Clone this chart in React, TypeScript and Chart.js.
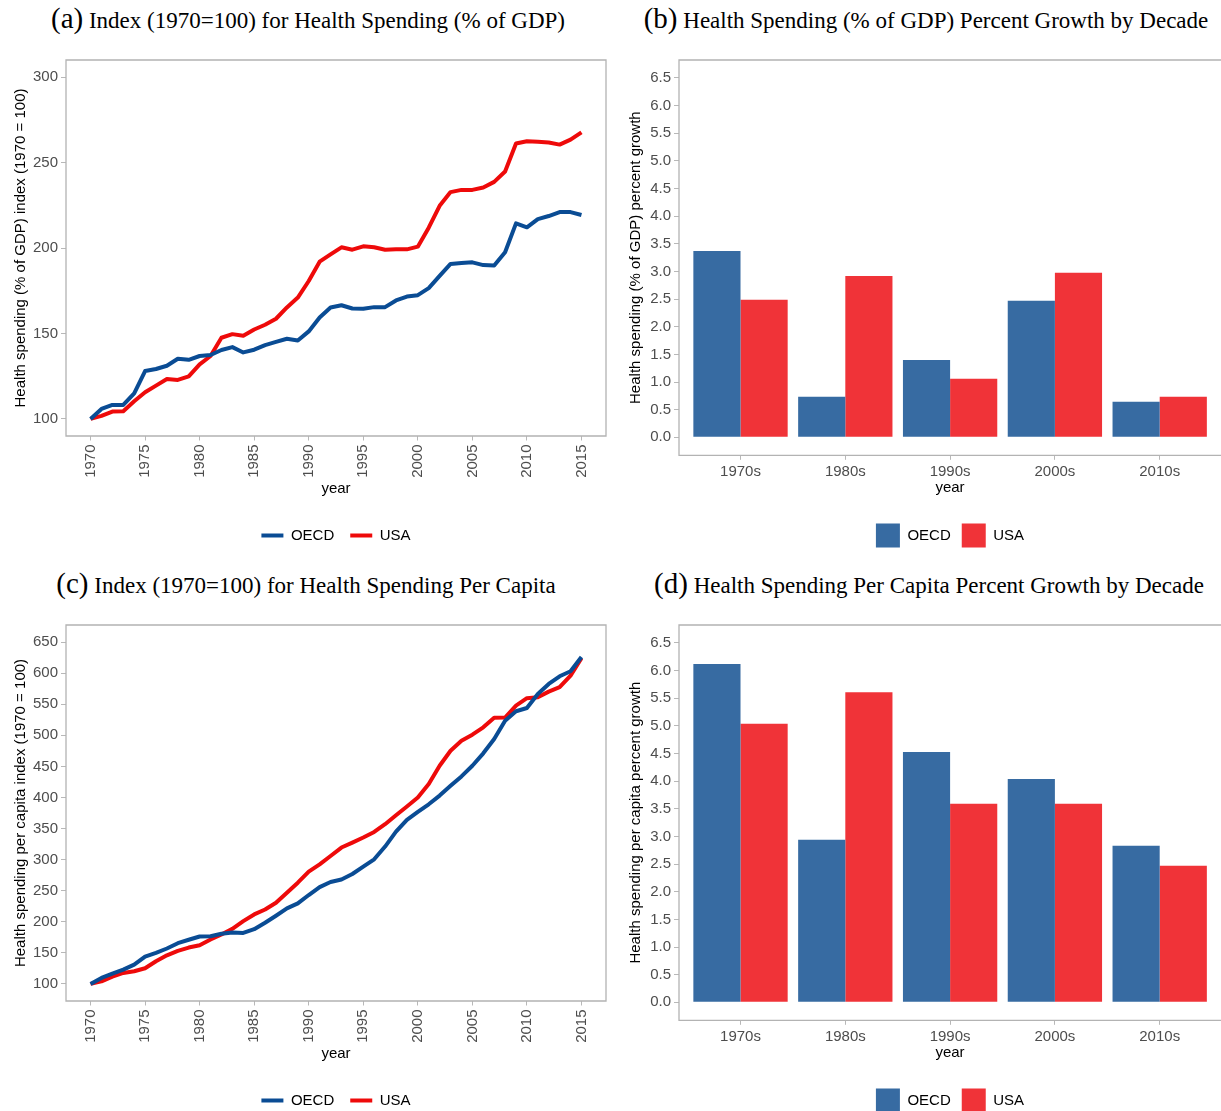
import React, { useEffect, useRef } from 'react';
import { Chart, registerables } from 'chart.js';

Chart.register(...registerables);

// ---------- data ----------
const years = [
  1970, 1971, 1972, 1973, 1974, 1975, 1976, 1977, 1978, 1979,
  1980, 1981, 1982, 1983, 1984, 1985, 1986, 1987, 1988, 1989,
  1990, 1991, 1992, 1993, 1994, 1995, 1996, 1997, 1998, 1999,
  2000, 2001, 2002, 2003, 2004, 2005, 2006, 2007, 2008, 2009,
  2010, 2011, 2012, 2013, 2014, 2015,
];

const oecdGdpIndex = [
  100, 105.8, 108.2, 108.2, 115, 128, 129.2, 131.1, 135.2, 134.6,
  136.8, 137.4, 140.3, 142, 138.9, 140.5, 143.2, 145.1, 146.9, 145.9,
  151.2, 159.3, 165.2, 166.5, 164.6, 164.4, 165.4, 165.4, 169.3, 171.6,
  172.4, 176.5, 183.7, 190.7, 191.2, 191.6, 190, 189.7, 197.5, 214.4,
  212.1, 216.9, 218.7, 221, 221, 219.3,
];
const usaGdpIndex = [
  100, 101.8, 104.3, 104.5, 110.3, 115.6, 119.5, 123.3, 122.8, 124.9,
  131.9, 136.8, 147.5, 149.6, 148.6, 152.3, 155.1, 158.6, 165.2, 171,
  180.7, 192, 196.3, 200.4, 199, 201, 200.4, 199, 199.2, 199.2,
  200.8, 211.9, 224.7, 232.7, 234, 234, 235.4, 238.7, 244.8, 261.1,
  262.5, 262.1, 261.7, 260.5, 263.4, 267.7,
];
const oecdPerCapitaIndex = [
  100, 109.7, 116.6, 123, 131, 144, 150, 157, 165.5, 171,
  176.3, 176.8, 180.6, 182.7, 182, 188, 198.4, 209.7, 221.5, 229.5,
  243, 255.8, 264, 268, 276.8, 288.7, 300.5, 321, 345, 364,
  376.8, 389, 403, 418.7, 433.9, 451, 471, 494, 523.6, 538.7,
  544, 566.6, 582.7, 595, 603, 626,
];
const usaPerCapitaIndex = [
  100, 104, 111.8, 117.7, 120.3, 125.2, 136.5, 146, 153.2, 158.5,
  162.3, 171.5, 179.5, 188.7, 201, 211.8, 219.8, 230.6, 246.8, 262.9,
  280.6, 292.4, 305.8, 319.4, 327.4, 335.5, 344.5, 357, 371.5, 385.5,
  400, 421.5, 451, 475.2, 491.3, 501, 512.9, 528.4, 528.6, 547.8,
  559.7, 561.3, 570.3, 577.4, 596, 624,
];

const decades = ['1970s', '1980s', '1990s', '2000s', '2010s'];
const oecdGdpGrowth = [3.37, 0.735, 1.4, 2.47, 0.645];
const usaGdpGrowth = [2.49, 2.92, 1.06, 2.976, 0.735];
const oecdPerCapitaGrowth = [6.12, 2.94, 4.53, 4.04, 2.83];
const usaPerCapitaGrowth = [5.04, 5.61, 3.59, 3.59, 2.47];

const yearTicks = [1970, 1975, 1980, 1985, 1990, 1995, 2000, 2005, 2010, 2015];
const gdpIndexTicks = [100, 150, 200, 250, 300];
const perCapitaIndexTicks = [100, 150, 200, 250, 300, 350, 400, 450, 500, 550, 600, 650];
const growthTicks = [0, 0.5, 1, 1.5, 2, 2.5, 3, 3.5, 4, 4.5, 5, 5.5, 6, 6.5];

// ---------- styles ----------
const SANS = '"Liberation Sans", Arial, Helvetica, sans-serif';
const SERIF = '"Liberation Serif", "Times New Roman", serif';
const LINE_BLUE = '#0A4C94';
const LINE_RED = '#EE0A0A';
const BAR_BLUE = '#376BA2';
const BAR_RED = '#F03338';
const TICK_TEXT = '#4D4D4D';
const TICK_MARK = '#B8B8B8';
const BOX = '#B3B3B3';

const tickFont = { family: SANS, size: 15 };
const titleFont = { family: SANS, size: 15 };

function boxPlugin(full: boolean) {
  return {
    id: 'panelBox',
    afterDraw(chart: any) {
      const { ctx, chartArea: a } = chart;
      ctx.save();
      ctx.strokeStyle = BOX;
      ctx.lineWidth = 1.3;
      ctx.beginPath();
      if (full) {
        ctx.rect(a.left, a.top, a.right - a.left, a.bottom - a.top);
      } else {
        const r = chart.width + 5;
        ctx.moveTo(r, a.top);
        ctx.lineTo(a.left, a.top);
        ctx.lineTo(a.left, a.bottom);
        ctx.lineTo(r, a.bottom);
      }
      ctx.stroke();
      ctx.restore();
    },
  };
}

function lineConfig(oecd: number[], usa: number[], yMin: number, yMax: number, yTicks: number[], yTitle: string) {
  return {
    type: 'line',
    data: {
      datasets: [
        {
          label: 'OECD',
          data: years.map((yr, i) => ({ x: yr, y: oecd[i] })),
          borderColor: LINE_BLUE,
          backgroundColor: LINE_BLUE,
          borderWidth: 4,
          pointRadius: 0,
          tension: 0,
          borderJoinStyle: 'round',
        },
        {
          label: 'USA',
          data: years.map((yr, i) => ({ x: yr, y: usa[i] })),
          borderColor: LINE_RED,
          backgroundColor: LINE_RED,
          borderWidth: 4,
          pointRadius: 0,
          tension: 0,
          borderJoinStyle: 'round',
        },
      ],
    },
    options: {
      responsive: false,
      animation: false,
      events: [],
      layout: { padding: { left: 0, top: 20, right: 4, bottom: 7 } },
      plugins: {
        legend: {
          position: 'bottom',
          fullSize: false,
          labels: {
            usePointStyle: true,
            pointStyle: 'line',
            pointStyleWidth: 22,
            padding: 16,
            color: '#000',
            font: { family: SANS, size: 15 },
          },
        },
        tooltip: { enabled: false },
      },
      scales: {
        x: {
          type: 'linear',
          min: 1967.75,
          max: 2017.25,
          afterBuildTicks: (ax: any) => {
            ax.ticks = yearTicks.map((v) => ({ value: v }));
          },
          afterFit: (s: any) => {
            s.height = 76;
          },
          ticks: {
            autoSkip: false,
            minRotation: 90,
            maxRotation: 90,
            padding: 4,
            color: TICK_TEXT,
            font: tickFont,
            callback: (v: any) => String(v),
          },
          grid: { drawOnChartArea: false, tickLength: 4.5, color: TICK_MARK, lineWidth: 1 },
          border: { display: false },
          title: { display: true, text: 'year', color: '#000', font: titleFont, padding: { top: 0, bottom: 14.4 } },
        },
        y: {
          type: 'linear',
          min: yMin,
          max: yMax,
          afterBuildTicks: (ax: any) => {
            ax.ticks = yTicks.map((v) => ({ value: v }));
          },
          afterFit: (s: any) => {
            s.width = 66;
          },
          ticks: { padding: 3, color: TICK_TEXT, font: tickFont, callback: (v: any) => String(v) },
          grid: { drawOnChartArea: false, tickLength: 5, color: TICK_MARK, lineWidth: 1 },
          border: { display: false },
          title: { display: true, text: yTitle, color: '#000', font: titleFont, padding: { top: 12, bottom: 0 } },
        },
      },
    },
    plugins: [boxPlugin(true)],
  };
}

function barConfig(oecd: number[], usa: number[], yTitle: string) {
  return {
    type: 'bar',
    data: {
      datasets: [
        {
          label: 'OECD',
          data: decades.map((_, i) => ({ x: i, y: oecd[i] })),
          backgroundColor: BAR_BLUE,
          borderWidth: 0,
          barPercentage: 1,
          categoryPercentage: 0.9,
        },
        {
          label: 'USA',
          data: decades.map((_, i) => ({ x: i, y: usa[i] })),
          backgroundColor: BAR_RED,
          borderWidth: 0,
          barPercentage: 1,
          categoryPercentage: 0.9,
        },
      ],
    },
    options: {
      responsive: false,
      animation: false,
      events: [],
      layout: { padding: { left: 0, top: 20, right: 0, bottom: 2.5 } },
      plugins: {
        legend: {
          position: 'bottom',
          fullSize: false,
          labels: {
            boxWidth: 24,
            boxHeight: 24,
            padding: 11,
            color: '#000',
            font: { family: SANS, size: 15 },
          },
        },
        tooltip: { enabled: false },
      },
      scales: {
        x: {
          type: 'linear',
          offset: false,
          min: -0.587,
          max: 4.585,
          afterBuildTicks: (ax: any) => {
            ax.ticks = decades.map((_, i) => ({ value: i }));
          },
          afterFit: (s: any) => {
            s.height = 57.2;
          },
          ticks: {
            autoSkip: false,
            maxRotation: 0,
            minRotation: 0,
            padding: 3,
            color: TICK_TEXT,
            font: tickFont,
            callback: (v: any) => decades[Math.round(v)],
          },
          grid: { offset: false, drawOnChartArea: false, tickLength: 4.5, color: TICK_MARK, lineWidth: 1 },
          border: { display: false },
          title: { display: true, text: 'year', color: '#000', font: titleFont, padding: { top: 0, bottom: 15.5 } },
        },
        y: {
          type: 'linear',
          min: -0.325,
          max: 6.825,
          afterBuildTicks: (ax: any) => {
            ax.ticks = growthTicks.map((v) => ({ value: v }));
          },
          afterFit: (s: any) => {
            s.width = 69;
          },
          ticks: { padding: 3, color: TICK_TEXT, font: tickFont, callback: (v: any) => Number(v).toFixed(1) },
          grid: { drawOnChartArea: false, tickLength: 5, color: TICK_MARK, lineWidth: 1 },
          border: { display: false },
          title: { display: true, text: yTitle, color: '#000', font: titleFont, padding: { top: 17, bottom: 0 } },
        },
      },
    },
    plugins: [boxPlugin(false)],
  };
}

function ChartCanvas({ left, top, width, height, make }: { left: number; top: number; width: number; height: number; make: () => any }) {
  const ref = useRef<HTMLCanvasElement | null>(null);
  useEffect(() => {
    if (!ref.current) return;
    const chart = new Chart(ref.current, make());
    return () => chart.destroy();
  }, []);
  return (
    <canvas
      ref={ref}
      width={width}
      height={height}
      style={{ position: 'absolute', left, top, width, height, display: 'block' }}
    />
  );
}

function Title({ cx, top, letter, text }: { cx: number; top: number; letter: string; text: string }) {
  return (
    <div
      style={{
        position: 'absolute',
        left: cx - 400,
        width: 800,
        top,
        textAlign: 'center',
        whiteSpace: 'nowrap',
        fontFamily: SERIF,
        fontSize: 23,
        lineHeight: '30px',
        color: '#000',
      }}
    >
      <span style={{ fontSize: 29 }}>{letter}</span> <span>{text}</span>
    </div>
  );
}

export default function App() {
  return (
    <div
      style={{
        position: 'fixed',
        left: 0,
        top: 0,
        width: 1221,
        height: 1111,
        overflow: 'hidden',
        background: '#fff',
      }}
    >
      <Title cx={308} top={3} letter="(a)" text="Index (1970=100) for Health Spending (% of GDP)" />
      <Title cx={926} top={3} letter="(b)" text="Health Spending (% of GDP) Percent Growth by Decade" />
      <Title cx={306} top={568} letter="(c)" text="Index (1970=100) for Health Spending Per Capita" />
      <Title cx={929} top={568} letter="(d)" text="Health Spending Per Capita Percent Growth by Decade" />

      <ChartCanvas
        left={0}
        top={40}
        width={610}
        height={520}
        make={() => lineConfig(oecdGdpIndex, usaGdpIndex, 90, 310, gdpIndexTicks, 'Health spending (% of GDP) index (1970 = 100)')}
      />
      <ChartCanvas
        left={610}
        top={40}
        width={611}
        height={520}
        make={() => barConfig(oecdGdpGrowth, usaGdpGrowth, 'Health spending (% of GDP) percent growth')}
      />
      <ChartCanvas
        left={0}
        top={605}
        width={610}
        height={520}
        make={() => lineConfig(oecdPerCapitaIndex, usaPerCapitaIndex, 72.5, 677.5, perCapitaIndexTicks, 'Health spending per capita index (1970 = 100)')}
      />
      <ChartCanvas
        left={610}
        top={605}
        width={611}
        height={520}
        make={() => barConfig(oecdPerCapitaGrowth, usaPerCapitaGrowth, 'Health spending per capita percent growth')}
      />
    </div>
  );
}
